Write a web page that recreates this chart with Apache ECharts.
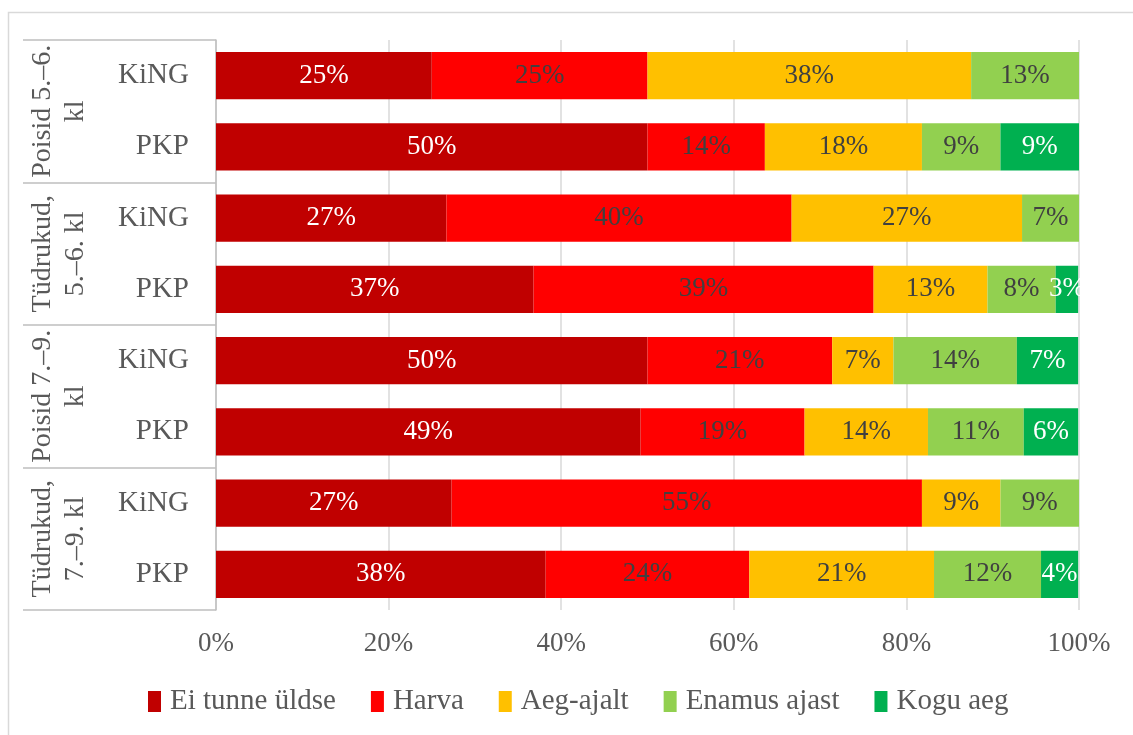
<!DOCTYPE html>
<html>
<head>
<meta charset="utf-8">
<script src="https://cdn.jsdelivr.net/npm/echarts@6/dist/echarts.min.js"></script>
<style>
  html, body { margin: 0; padding: 0; background: #fff; }
  #chart { width: 1133px; height: 735px; }
</style>
</head>
<body>
<div id="chart"></div>
<script>
// rows top to bottom
var groups = ['Poisid 5.–6.\nkl', 'Tüdrukud,\n5.–6. kl', 'Poisid 7.–9.\nkl', 'Tüdrukud,\n7.–9. kl'];
var subLabels = ['KiNG', 'PKP', 'KiNG', 'PKP', 'KiNG', 'PKP', 'KiNG', 'PKP'];
var seriesNames = ['Ei tunne üldse', 'Harva', 'Aeg-ajalt', 'Enamus ajast', 'Kogu aeg'];

// shares in % per row
var eiTunne = [25, 50, 26.7, 36.8, 50, 49.2, 27.3, 38.2];
var harva = [25, 13.6, 40, 39.4, 21.4, 19.0, 54.5, 23.6];
var aegAjalt = [37.5, 18.2, 26.7, 13.2, 7.1, 14.3, 9.1, 21.4];
var enamus = [12.5, 9.1, 6.7, 7.9, 14.3, 11.1, 9.1, 12.4];
var koguAeg = [0, 9.1, 0, 2.6, 7.1, 6.3, 0, 4.3];

var xTicks = [0, 20, 40, 60, 80, 100];

var colors = ['#C00000', '#FF0000', '#FFC000', '#92D050', '#00B050'];
var labelColors = ['#ffffff', '#404040', '#404040', '#404040', '#ffffff'];
var values = [eiTunne, harva, aegAjalt, enamus, koguAeg];

var font = 'Liberation Serif, Times New Roman, serif';
var myChart = echarts.init(document.getElementById('chart'));

var series = seriesNames.map(function (name, i) {
  return {
    name: name,
    type: 'bar',
    stack: 'total',
    barCategoryGap: '34%',
    yAxisIndex: 0,
    data: values[i].map(function (v) { return v === 0 ? null : v; }),
    itemStyle: { color: colors[i] },
    label: {
      show: true,
      position: 'inside',
      color: labelColors[i],
      fontFamily: font,
      fontSize: 27,
      formatter: function (p) { return Math.round(p.value) + '%'; }
    }
  };
});

var option = {
  backgroundColor: '#fff',
  animation: false,
  graphic: [{
    type: 'rect',
    shape: { x: 8.5, y: 12.5, width: 1200, height: 800 },
    style: { fill: 'none', stroke: '#d9d9d9', lineWidth: 1.5 },
    silent: true
  }],
  grid: { left: 216, right: 54, top: 40, bottom: 125 },
  legend: {
    bottom: 14,
    left: 143,
    itemWidth: 13,
    itemHeight: 21,
    itemGap: 35,
    icon: 'rect',
    textStyle: { fontFamily: font, fontSize: 29, color: '#595959', padding: [0, 0, 0, 4] },
    data: seriesNames
  },
  xAxis: {
    type: 'value',
    min: 0,
    max: 100,
    interval: 20,
    axisLine: { show: false },
    axisTick: { show: false },
    splitLine: { lineStyle: { color: '#d9d9d9', width: 1.5 } },
    axisLabel: {
      margin: 20,
      fontFamily: font,
      fontSize: 27,
      color: '#595959',
      formatter: function (v) { return xTicks.indexOf(v) >= 0 ? v + '%' : ''; }
    }
  },
  yAxis: [{
    type: 'category',
    inverse: true,
    data: subLabels.map(function (s, i) { return i; }),
    axisLine: { show: true, lineStyle: { color: '#bfbfbf', width: 1.5 } },
    axisTick: { show: false },
    axisLabel: {
      interval: 0,
      margin: 27,
      fontFamily: font,
      fontSize: 29,
      color: '#595959',
      formatter: function (v) { return subLabels[v]; }
    }
  }, {
    type: 'category',
    inverse: true,
    position: 'left',
    data: groups,
    axisLine: { show: false },
    axisTick: { show: true, interval: 0, length: 193, lineStyle: { color: '#bfbfbf', width: 1.5 } },
    axisLabel: {
      interval: 0,
      rotate: 90,
      margin: 124,
      fontFamily: font,
      fontSize: 28,
      lineHeight: 33,
      color: '#595959'
    }
  }],
  series: series
};

myChart.setOption(option);
</script>
</body>
</html>
